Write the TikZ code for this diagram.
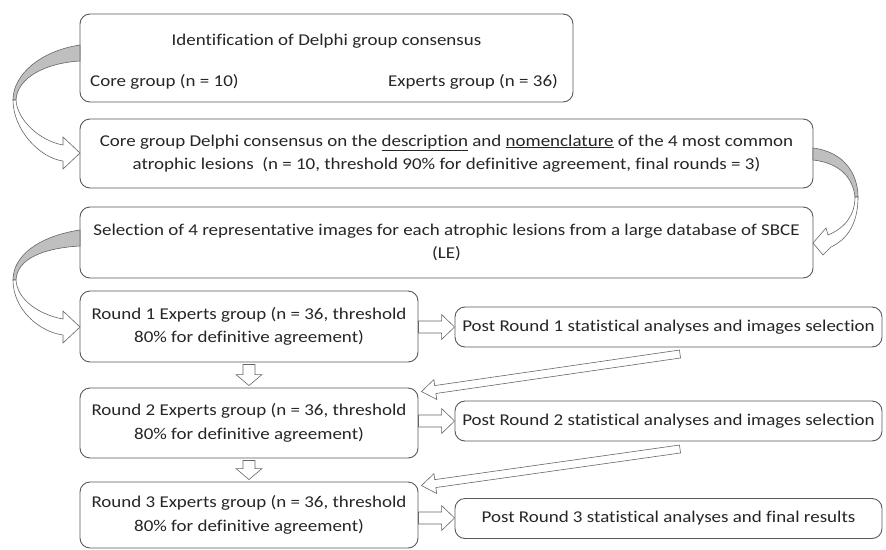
\documentclass[tikz,border=0pt]{standalone}
\usepackage{fontspec}
\setmainfont{Carlito}[FakeStretch=1.15, Ligatures={NoCommon}]
\usetikzlibrary{calc}
\newcommand\blockarrow[5]{%
  \path ($(#2)!#5!(#1)$) coordinate (hb);
  \draw[barrow] ($(#1)!#3!90:(#2)$) -- ($(hb)!#3!90:(#2)$) -- ($(hb)!#4!90:(#2)$) -- (#2)
    -- ($(hb)!#4!-90:(#2)$) -- ($(hb)!#3!-90:(#2)$) -- ($(#1)!#3!-90:(#2)$) -- cycle;}
\begin{document}
\begin{tikzpicture}[x=1pt,y=-1pt,
  box/.style={draw=black!65, line width=0.9pt, rounded corners=10pt, fill=white, inner sep=0pt,
    align=center, font=\fontsize{16.5}{23.5}\selectfont, text=black!85},
  txt/.style={inner sep=0pt, font=\fontsize{16.5}{23.5}\selectfont, text=black!85},
  barrow/.style={draw=black!60, line width=0.6pt, fill=white, line join=miter},
  ribbon/.style={draw=black!60, line width=0.6pt, fill=black!25},
  ]
\useasboundingbox (0,0) rectangle (886,549);
\fill[white] (0,0) rectangle (886,549);

% boxes
\node[box, minimum width=493pt, minimum height=88pt] (A) at (326.5,58) {};
\node[txt] (A1) at (326.5,41) {Identification of Delphi group consensus};
\node[txt, anchor=west] (A2) at (90,82) {Core group (n = 10)};
\node[txt, anchor=west] (A3) at (388,82) {Experts group (n = 36)};

\node[box, minimum width=733pt, minimum height=69pt] (B) at (446.5,153.5)
  {Core group Delphi consensus on the \underline{description} and \underline{nomenclature} of the 4 most common\\
   atrophic lesions\ \ (n = 10, threshold 90\% for definitive agreement, final rounds = 3)};
\node[box, minimum width=733pt, minimum height=71pt] (C) at (446.5,242.5)
  {Selection of 4 representative images for each atrophic lesions from a large database of SBCE\\(LE)};

\node[box, minimum width=338pt, minimum height=71pt] (D) at (249,326.5)
  {Round 1 Experts group (n = 36, threshold\\80\% for definitive agreement)};
\node[box, minimum width=427pt, minimum height=40pt] (E) at (668.5,327)
  {Post Round 1 statistical analyses and images selection};

\node[box, minimum width=338pt, minimum height=70pt] (F) at (249,423)
  {Round 2 Experts group (n = 36, threshold\\80\% for definitive agreement)};
\node[box, minimum width=427pt, minimum height=40pt] (G) at (668.5,421)
  {Post Round 2 statistical analyses and images selection};

\node[box, minimum width=338pt, minimum height=66pt] (H) at (249,515)
  {Round 3 Experts group (n = 36, threshold\\80\% for definitive agreement)};
\node[box, minimum width=427pt, minimum height=40pt] (I) at (668.5,518.5)
  {Post Round 3 statistical analyses and final results};

% left curved arrows
\newcommand\leftcurve[3]{%
  \draw[ribbon] (80,#1) .. controls (40,{#1+6}) and (13,{#2-25}) .. (13,#2)
    -- (16,#2) .. controls (17,{#2-22}) and (45,{#1+18}) .. (80,{#1+16}) -- cycle;
  \draw[barrow] (13,#2) .. controls (13,{#2+30}) and (40,{#3+5}) .. (63,{#3+8})
    -- (63,{#3+16}) -- (80,#3) -- (63,{#3-16}) -- (63,{#3-8})
    .. controls (40,{#3-12}) and (17,{#2+20}) .. (16,#2) -- cycle;}
\leftcurve{45}{100}{153}
\leftcurve{230}{280}{327}

% right curved arrow
\draw[ribbon] (813,148) .. controls (845,152) and (858,175) .. (858,197)
  -- (855,197) .. controls (853,178) and (840,163) .. (813,160) -- cycle;
\draw[barrow] (855,197) .. controls (855,215) and (845,228) .. (828,235)
  -- (826,228) -- (813,243) -- (823,255) -- (831,247)
  .. controls (850,238) and (858,220) .. (858,197) -- cycle;

% straight block arrows
\coordinate (d1) at (D.east |- 0,327);  \coordinate (e1) at (E.west |- 0,327);
\coordinate (f1) at (F.east |- 0,421);  \coordinate (g1) at (G.west |- 0,421);
\coordinate (h1) at (H.east |- 0,518);  \coordinate (i1) at (I.west |- 0,518);
\blockarrow{d1}{e1}{6pt}{12.5pt}{13pt}
\blockarrow{f1}{g1}{6pt}{12.5pt}{13pt}
\blockarrow{h1}{i1}{6pt}{12.5pt}{13pt}

\coordinate (dd) at ($(D.south)+(0,2)$);  \coordinate (fu) at ($(F.north)+(0,-2)$);
\coordinate (fd) at ($(F.south)+(0,2)$);  \coordinate (hu) at ($(H.north)+(0,-2)$);
\blockarrow{dd}{fu}{6pt}{13pt}{11pt}
\blockarrow{fd}{hu}{6pt}{13pt}{11pt}

% diagonal arrows
\coordinate (e2) at (680,354);  \coordinate (f2) at ($(F.north east)+(3,4)$);
\coordinate (g2) at (680,449);  \coordinate (h2) at ($(H.north east)+(3,4)$);
\blockarrow{e2}{f2}{4pt}{10pt}{14pt}
\blockarrow{g2}{h2}{4pt}{10pt}{14pt}
\end{tikzpicture}
\end{document}
